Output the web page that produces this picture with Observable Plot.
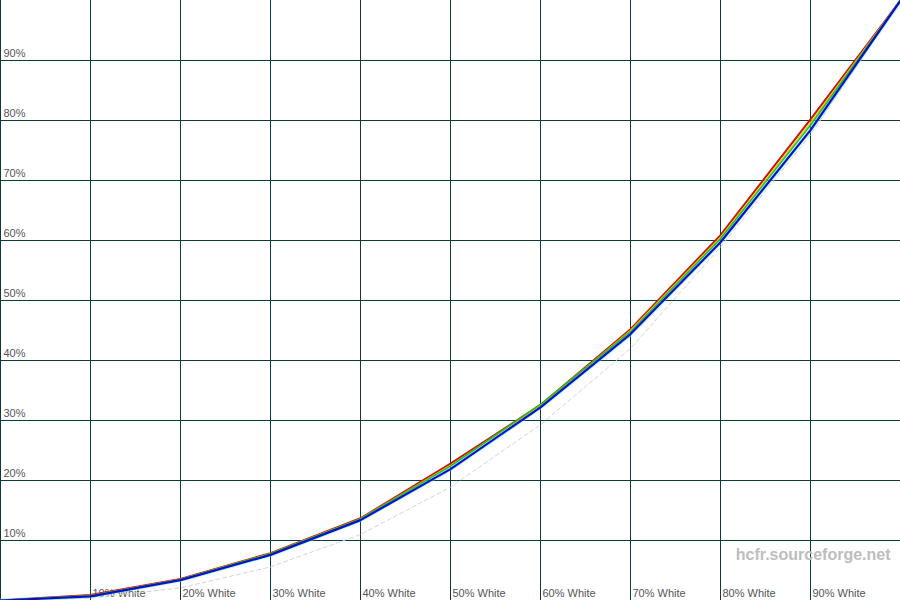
<!DOCTYPE html>
<html>
<head>
<meta charset="utf-8">
<script src="https://cdn.jsdelivr.net/npm/d3@7"></script>
<script src="https://cdn.jsdelivr.net/npm/@observablehq/plot@0.6"></script>
<style>
  html, body { margin: 0; padding: 0; background: #fff; }
  #chart svg { display: block; }
</style>
</head>
<body>
<div id="chart"></div>
<script>
const levels = [0, 10, 20, 30, 40, 50, 60, 70, 80, 90, 100];
const redValues    = [0, 0.9, 3.6, 7.9, 13.7, 22.8, 32.6, 45.2, 60.9, 80.2, 100];
const yellowValues = [0, 0.8, 3.5, 7.8, 13.6, 22.5, 32.5, 45.0, 60.5, 79.6, 100];
const greenValues  = [0, 0.8, 3.5, 7.8, 13.6, 22.4, 32.7, 44.8, 60.3, 79.2, 100];
const blueValues   = [0, 0.7, 3.4, 7.6, 13.4, 21.9, 32.2, 44.4, 59.7, 78.4, 100];
const refValues    = [0, 0.4, 2.1, 5.6, 11.0, 18.9, 29.3, 42.0, 58.9, 77.6, 100];
const xTickValues = [10, 20, 30, 40, 50, 60, 70, 80, 90];
const xTickLabels = ["10% White", "20% White", "30% White", "40% White", "50% White", "60% White", "70% White", "80% White", "90% White"];
const yTickValues = [10, 20, 30, 40, 50, 60, 70, 80, 90];
const yTickLabels = ["10%", "20%", "30%", "40%", "50%", "60%", "70%", "80%", "90%"];
const watermark = "hcfr.sourceforge.net";

const series = (vals) => levels.map((x, i) => ({x, y: vals[i]}));
const gridColor = "#0c3b3d";
const font = "Liberation Sans, Arial, sans-serif";

const chart = Plot.plot({
  width: 900,
  height: 600,
  margin: 0,
  x: {domain: [0, 100], axis: null},
  y: {domain: [0, 100], axis: null},
  style: {fontFamily: font, background: "#fff"},
  marks: [
    Plot.ruleX([0, ...xTickValues], {stroke: gridColor, strokeWidth: 1, strokeOpacity: 1}),
    Plot.ruleY(yTickValues, {stroke: gridColor, strokeWidth: 1, strokeOpacity: 1}),
    Plot.text(yTickValues.map((v, i) => ({y: v, label: yTickLabels[i]})), {
      x: 0, y: "y", text: "label", textAnchor: "start", dx: 3, dy: -7,
      fontSize: 11, fill: "#555"
    }),
    Plot.text(xTickValues.map((v, i) => ({x: v, label: xTickLabels[i]})), {
      x: "x", y: 0, text: "label", textAnchor: "start", dx: 2, dy: -7,
      fontSize: 11, fill: "#555"
    }),
    Plot.text([watermark], {
      frameAnchor: "bottom-right", dx: -10, dy: -41,
      fontSize: 16, fontWeight: "bold", fill: "#bdbdbd"
    }),
    Plot.line(series(refValues), {x: "x", y: "y", stroke: "#d4d4d4", strokeWidth: 1, strokeDasharray: "4,3"}),
    Plot.line(series(blueValues), {x: "x", y: "y", stroke: "#5ff0f0", strokeWidth: 4, strokeOpacity: 0.5}),
    Plot.line(series(redValues), {x: "x", y: "y", stroke: "#d01010", strokeWidth: 2}),
    Plot.line(series(yellowValues), {x: "x", y: "y", stroke: "#e0d000", strokeWidth: 1.5}),
    Plot.line(series(greenValues), {x: "x", y: "y", stroke: "#20c020", strokeWidth: 1.5}),
    Plot.line(series(blueValues), {x: "x", y: "y", stroke: "#0a10c8", strokeWidth: 2.2})
  ]
});
document.getElementById("chart").appendChild(chart);
</script>
</body>
</html>
